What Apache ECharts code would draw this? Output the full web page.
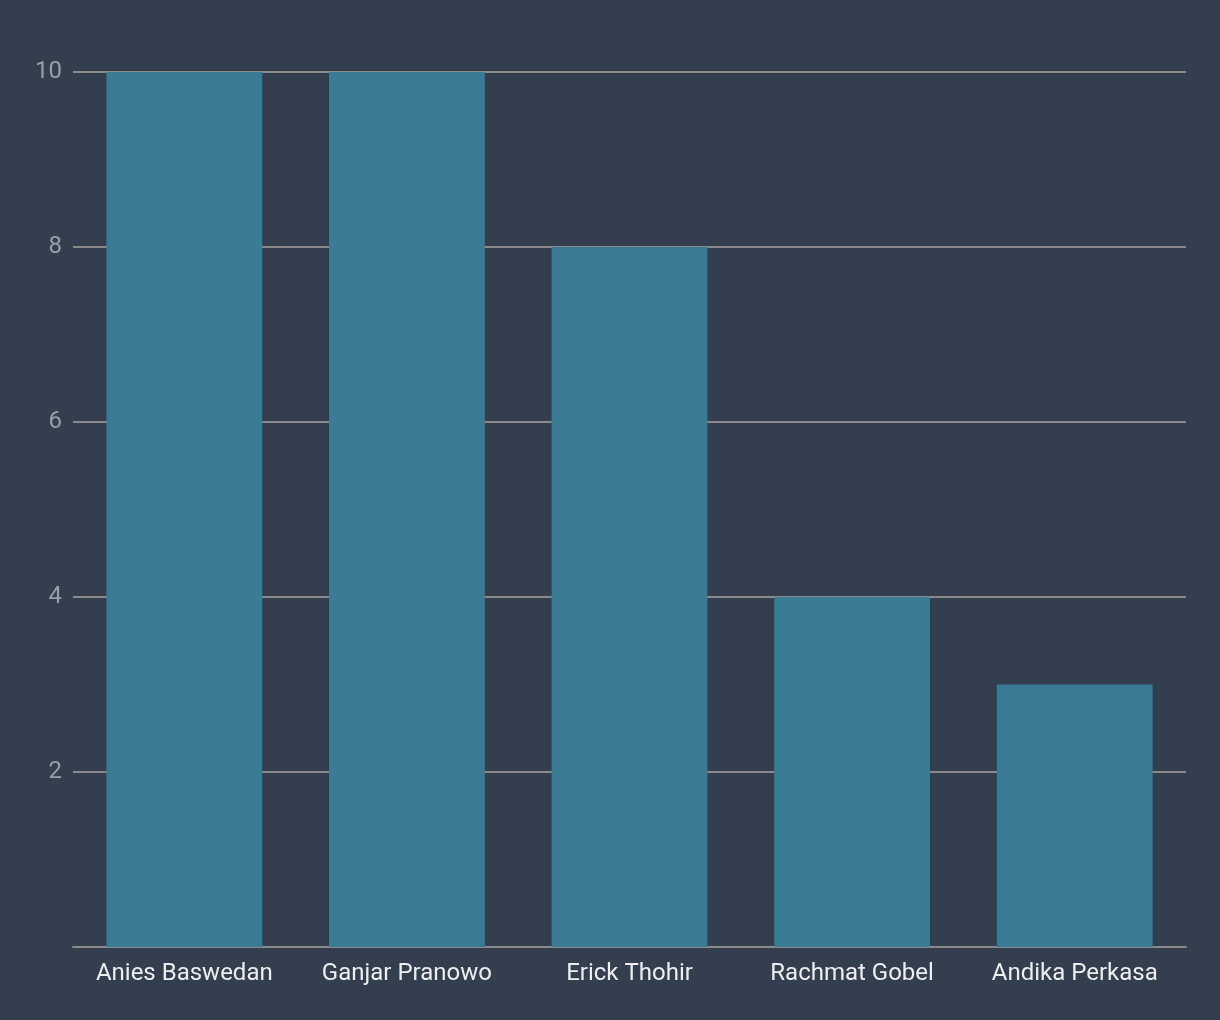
<!DOCTYPE html>
<html>
<head>
<meta charset="utf-8">
<script src="https://cdn.jsdelivr.net/npm/echarts@6/dist/echarts.min.js"></script>
<style>
html,body{margin:0;padding:0;background:#333e4f;}
#chart{width:1220px;height:1020px;}
</style>
</head>
<body>
<div id="chart"></div>
<script>
const categories = ["Anies Baswedan", "Ganjar Pranowo", "Erick Thohir", "Rachmat Gobel", "Andika Perkasa"];
const values = [10, 10, 8, 4, 3];

const chart = echarts.init(document.getElementById('chart'));
chart.setOption({
  backgroundColor: '#333e4f',
  animation: false,
  grid: { left: 73, right: 34, top: 72, bottom: 73 },
  xAxis: {
    type: 'category',
    data: categories,
    axisLine: { lineStyle: { color: '#8a8a8a', width: 2 } },
    axisTick: { show: false },
    axisLabel: { interval: 0, hideOverlap: false, color: '#eeeeee', fontFamily: 'Roboto', fontSize: 24, margin: 15 }
  },
  yAxis: {
    type: 'value',
    min: 0, max: 10, interval: 2,
    axisLine: { show: false },
    axisTick: { show: false },
    splitLine: { lineStyle: { color: '#8a8a8a', width: 2 } },
    axisLabel: {
      color: '#9a9ea6', fontFamily: 'Roboto', fontSize: 24, margin: 11,
      formatter: v => v === 0 ? '' : String(v)
    }
  },
  series: [{
    type: 'bar',
    data: values,
    barCategoryGap: '30%',
    itemStyle: { color: '#3a7b96' }
  }]
});
</script>
</body>
</html>
